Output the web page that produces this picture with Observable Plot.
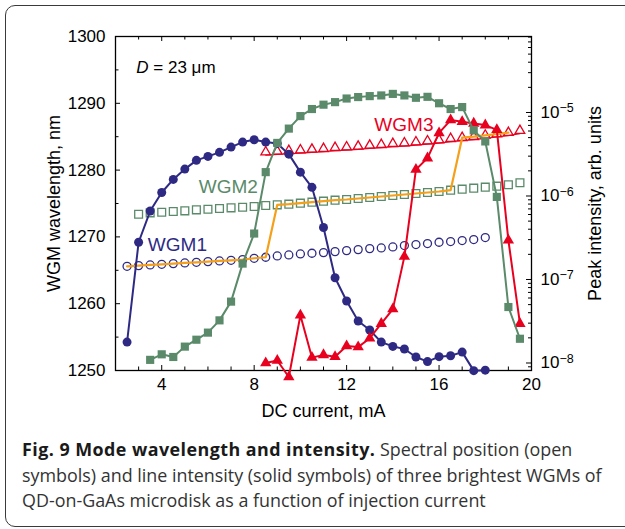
<!DOCTYPE html>
<html>
<head>
<meta charset="utf-8">
<script src="https://cdn.jsdelivr.net/npm/d3@7"></script>
<script src="https://cdn.jsdelivr.net/npm/@observablehq/plot@0.6"></script>
<style>
  body { margin: 0; background: #fff; width: 625px; height: 529px; overflow: hidden; position: relative; }
  #card { position: absolute; left: 5px; top: 5px; width: 660px; height: 522px; border: 1.5px solid #3a3a3a; border-radius: 10px; box-sizing: border-box; }
  #chart { position: absolute; left: 0; top: 0; width: 625px; height: 440px; }
  #chart svg { position: absolute; left: 0; top: 0; }
  #caption { position: absolute; left: 22px; top: 437px; width: 600px; font-family: "Open Sans", sans-serif; font-size: 17.9px; line-height: 25.5px; color: #333; white-space: nowrap; }
  #caption b { color: #1a1a1a; font-weight: 700; letter-spacing: 0.45px; }
</style>
</head>
<body>
<div id="card"></div>
<div id="chart"></div>
<div id="caption"><b>Fig. 9 Mode wavelength and intensity.</b> Spectral position (open<br>symbols) and line intensity (solid symbols) of three brightest WGMs of<br>QD-on-GaAs microdisk as a function of injection current</div>
<script>
// ---------------- data (DC current in mA) ----------------
const wgm1Current = [2.5, 3, 3.5, 4, 4.5, 5, 5.5, 6, 6.5, 7, 7.5, 8, 8.5, 9, 9.5, 10, 10.5, 11, 11.5, 12, 12.5, 13, 13.5, 14, 14.5, 15, 15.5, 16, 16.5, 17, 17.5, 18];
const wgm1Wavelength = [1265.6, 1265.7, 1265.8, 1265.9, 1266.0, 1266.1, 1266.2, 1266.3, 1266.4, 1266.5, 1266.6, 1266.8, 1266.95, 1267.15, 1267.3, 1267.45, 1267.55, 1267.65, 1267.8, 1267.95, 1268.1, 1268.25, 1268.35, 1268.5, 1268.7, 1268.85, 1269.0, 1269.2, 1269.3, 1269.45, 1269.6, 1269.9];
const wgm1Intensity = [1.78e-8, 2.79e-7, 6.6e-7, 1.10e-6, 1.58e-6, 2.10e-6, 2.67e-6, 2.98e-6, 3.33e-6, 3.85e-6, 4.42e-6, 4.71e-6, 4.42e-6, 4.26e-6, 3.17e-6, 1.93e-6, 1.27e-6, 4.19e-7, 1.05e-7, 5.52e-8, 3.18e-8, 2.48e-8, 1.78e-8, 1.58e-8, 1.47e-8, 1.18e-8, 1.04e-8, 1.19e-8, 1.22e-8, 1.35e-8, 8.1e-9, 8.2e-9];

const wgm2WavelengthCurrent = [3, 3.5, 4, 4.5, 5, 5.5, 6, 6.5, 7, 7.5, 8, 8.5, 9, 9.5, 10, 10.5, 11, 11.5, 12, 12.5, 13, 13.5, 14, 14.5, 15, 15.5, 16, 16.5, 17, 17.5, 18, 18.5, 19, 19.5];
const wgm2Wavelength = [1273.4, 1273.6, 1273.7, 1273.8, 1273.9, 1274.05, 1274.15, 1274.25, 1274.35, 1274.45, 1274.55, 1274.7, 1274.8, 1274.9, 1275.05, 1275.2, 1275.35, 1275.5, 1275.6, 1275.75, 1275.9, 1276.05, 1276.2, 1276.35, 1276.5, 1276.65, 1276.8, 1277.0, 1277.15, 1277.3, 1277.45, 1277.6, 1277.8, 1278.1];
const wgm2IntensityCurrent = [3.5, 4, 4.5, 5, 5.5, 6, 6.5, 7, 7.5, 8, 8.5, 9, 9.5, 10, 10.5, 11, 11.5, 12, 12.5, 13, 13.5, 14, 14.5, 15, 15.5, 16, 16.5, 17, 17.5, 18, 18.5, 19, 19.5];
const wgm2Intensity = [1.09e-8, 1.27e-8, 1.18e-8, 1.57e-8, 1.90e-8, 2.31e-8, 3.24e-8, 5.43e-8, 1.55e-7, 3.55e-7, 1.93e-6, 4.32e-6, 6.41e-6, 9.05e-6, 1.10e-5, 1.24e-5, 1.33e-5, 1.47e-5, 1.53e-5, 1.57e-5, 1.60e-5, 1.67e-5, 1.60e-5, 1.50e-5, 1.54e-5, 1.29e-5, 1.10e-5, 1.16e-5, 6.10e-6, 4.50e-6, 9.75e-7, 4.68e-8, 1.95e-8];

const wgm3Current = [8.5, 9, 9.5, 10, 10.5, 11, 11.5, 12, 12.5, 13, 13.5, 14, 14.5, 15, 15.5, 16, 16.5, 17, 17.5, 18, 18.5, 19, 19.5];
const wgm3Wavelength = [1282.7, 1282.8, 1282.9, 1283.0, 1283.1, 1283.2, 1283.35, 1283.45, 1283.55, 1283.7, 1283.8, 1283.95, 1284.05, 1284.2, 1284.35, 1284.5, 1284.7, 1284.85, 1285.0, 1285.2, 1285.4, 1285.6, 1285.9];
const wgm3Intensity = [9.97e-9, 1.07e-8, 6.8e-9, 3.72e-8, 1.16e-8, 1.25e-8, 1.19e-8, 1.60e-8, 1.55e-8, 1.98e-8, 2.96e-8, 4.42e-8, 1.88e-7, 2.08e-6, 2.84e-6, 5.69e-6, 8.11e-6, 7.73e-6, 7.40e-6, 7.06e-6, 6.20e-6, 2.95e-7, 2.96e-8];

// brightest (lasing) mode per current range
const lasingModes = [
  {mode: "WGM1", from: 2.5, to: 8.5},
  {mode: "WGM2", from: 9, to: 16.5},
  {mode: "WGM3", from: 17, to: 19}
];

const wavelengthTicks = [1250, 1260, 1270, 1280, 1290, 1300];
const currentTicks = [4, 8, 12, 16, 20];
const intensityTicks = [1e-8, 1e-7, 1e-6, 1e-5];

const seriesLabels = [
  {text: "WGM1", current: 3.4, wavelength: 1268.75, color: "navy"},
  {text: "WGM2", current: 5.6, wavelength: 1277.45, color: "green"},
  {text: "WGM3", current: 13.2, wavelength: 1286.75, color: "red"}
];
const sizeLabel = {text: "D = 23 μm", current: 2.9, wavelength: 1295.4};

// ---------------- layout ----------------
const W = 625, H = 440, mL = 115, mR = 94, mT = 36, mB = 70;
const innerW = W - mL - mR, innerH = H - mT - mB;
const colors = {navy: "#2e2a84", green: "#5a8a69", red: "#e8011f", orange: "#f5a01a"};
const font = "'Liberation Sans', Arial, sans-serif";

const zip = (xs, ys) => xs.map((x, i) => ({x, y: ys[i]}));
const w1open = zip(wgm1Current, wgm1Wavelength);
const w2open = zip(wgm2WavelengthCurrent, wgm2Wavelength);
const w3open = zip(wgm3Current, wgm3Wavelength);
const w1sol = zip(wgm1Current, wgm1Intensity);
const w2sol = zip(wgm2IntensityCurrent, wgm2Intensity);
const w3sol = zip(wgm3Current, wgm3Intensity);
const byMode = {WGM1: w1open, WGM2: w2open, WGM3: w3open};
const lasing = lasingModes.flatMap(s => byMode[s.mode].filter(d => d.x >= s.from && d.x <= s.to));

const common = {
  width: W, height: H, marginLeft: mL, marginRight: mR, marginTop: mT, marginBottom: mB,
  style: {fontFamily: font, fontSize: "17px", background: "transparent", overflow: "visible", color: "black"}
};

const minorX = d3.range(2, 21).filter(v => !currentTicks.includes(v));
const minorWl = d3.range(1255, 1300, 10);

// chart A: wavelength (left axis), open symbols
const chartA = Plot.plot({
  ...common,
  x: {domain: [2, 20]},
  y: {domain: [1250, 1300]},
  marks: [
    Plot.tickY(wavelengthTicks, {y: d => d, insetRight: innerW - 5, stroke: "black"}),
    Plot.tickY(minorWl, {y: d => d, insetRight: innerW - 3.5, stroke: "black"}),
    Plot.tickX(currentTicks, {x: d => d, insetTop: innerH - 5, stroke: "black"}),
    Plot.tickX(minorX, {x: d => d, insetTop: innerH - 3.5, stroke: "black"}),
    Plot.tickX(currentTicks, {x: d => d, insetBottom: innerH - 5, stroke: "black"}),
    Plot.tickX(minorX, {x: d => d, insetBottom: innerH - 3.5, stroke: "black"}),
    Plot.axisY({anchor: "left", ticks: wavelengthTicks, tickSize: 0, tickPadding: 10, fontSize: 17, label: null, tickFormat: d => String(d)}),
    Plot.axisX({anchor: "bottom", ticks: currentTicks, tickSize: 0, tickPadding: 7, fontSize: 17, label: null, tickFormat: d => String(d)}),
    Plot.text(["DC current, mA"], {text: d => d, frameAnchor: "bottom", textAnchor: "middle", dy: 46, fontSize: 18}),
    Plot.text(["WGM wavelength, nm"], {text: d => d, frameAnchor: "left", textAnchor: "middle", rotate: -90, dx: -61, fontSize: 18}),
    Plot.line(w3open, {x: "x", y: "y", stroke: colors.red, strokeWidth: 1.2, dy: 3}),
    Plot.dot(w1open, {x: "x", y: "y", r: 4, stroke: colors.navy, strokeWidth: 1.3, fill: "none"}),
    Plot.dot(w2open, {x: "x", y: "y", symbol: "square", r: 4.4, stroke: colors.green, strokeWidth: 1.3, fill: "none"}),
    Plot.dot(w3open, {x: "x", y: "y", symbol: "triangle2", r: 4.6, stroke: colors.red, strokeWidth: 1.3, fill: "none"}),
    Plot.line(lasing, {x: "x", y: "y", stroke: colors.orange, strokeWidth: 2.2}),
    Plot.text(seriesLabels, {x: "current", y: "wavelength", text: "text", fill: d => colors[d.color], textAnchor: "start", fontSize: 19}),
    Plot.text([sizeLabel], {x: "current", y: "wavelength", text: "text", textAnchor: "start", fontSize: 17}),
    Plot.frame({stroke: "black", strokeWidth: 1.3})
  ]
});

// chart B: peak intensity (right log axis), solid symbols
const minorLog = [];
for (let e = -9; e <= -5; e++) for (let m = 2; m <= 9; m++) {
  const v = m * Math.pow(10, e);
  if (v > Math.pow(10, -8.09) && v < Math.pow(10, -4.09)) minorLog.push(v);
}
const chartB = Plot.plot({
  ...common,
  x: {domain: [2, 20], axis: null},
  y: {type: "log", domain: [Math.pow(10, -8.09), Math.pow(10, -4.09)]},
  marks: [
    Plot.tickY(intensityTicks, {y: d => d, insetLeft: innerW - 5, stroke: "black"}),
    Plot.tickY(minorLog, {y: d => d, insetLeft: innerW - 3, stroke: "black"}),
    Plot.axisY({anchor: "right", ticks: intensityTicks, tickSize: 0, tickPadding: 9, fontSize: 17, label: null,
      tickFormat: d => "10^" + Math.round(Math.log10(d))}),
    Plot.text(["Peak intensity, arb. units"], {text: d => d, frameAnchor: "right", textAnchor: "middle", rotate: -90, dx: 64, fontSize: 18}),
    Plot.line(w1sol, {x: "x", y: "y", stroke: colors.navy, strokeWidth: 2}),
    Plot.dot(w1sol, {x: "x", y: "y", r: 4.5, fill: colors.navy}),
    Plot.line(w3sol, {x: "x", y: "y", stroke: colors.red, strokeWidth: 2}),
    Plot.dot(w3sol, {x: "x", y: "y", symbol: "triangle", r: 4.2, fill: colors.red}),
    Plot.line(w2sol, {x: "x", y: "y", stroke: colors.green, strokeWidth: 2}),
    Plot.dot(w2sol, {x: "x", y: "y", symbol: "square", r: 4.6, fill: colors.green})
  ]
});

const host = document.getElementById("chart");
host.appendChild(chartA);
host.appendChild(chartB);

// superscript exponents and italic D
chartB.querySelectorAll("text").forEach(t => {
  const s = t.textContent;
  if (s.startsWith("10^")) {
    const exp = s.slice(3).replace("-", "\u2212");
    t.textContent = "10";
    const ts = document.createElementNS("http://www.w3.org/2000/svg", "tspan");
    ts.setAttribute("dy", "-0.45em");
    ts.setAttribute("font-size", "12.5");
    ts.textContent = exp;
    t.appendChild(ts);
  }
});
chartA.querySelectorAll("text").forEach(t => {
  if (t.textContent === sizeLabel.text) {
    t.textContent = "";
    const a = document.createElementNS("http://www.w3.org/2000/svg", "tspan");
    a.setAttribute("font-style", "italic");
    a.textContent = "D";
    const b = document.createElementNS("http://www.w3.org/2000/svg", "tspan");
    b.textContent = " = 23 μm";
    t.appendChild(a); t.appendChild(b);
  }
});
</script>
</body>
</html>
